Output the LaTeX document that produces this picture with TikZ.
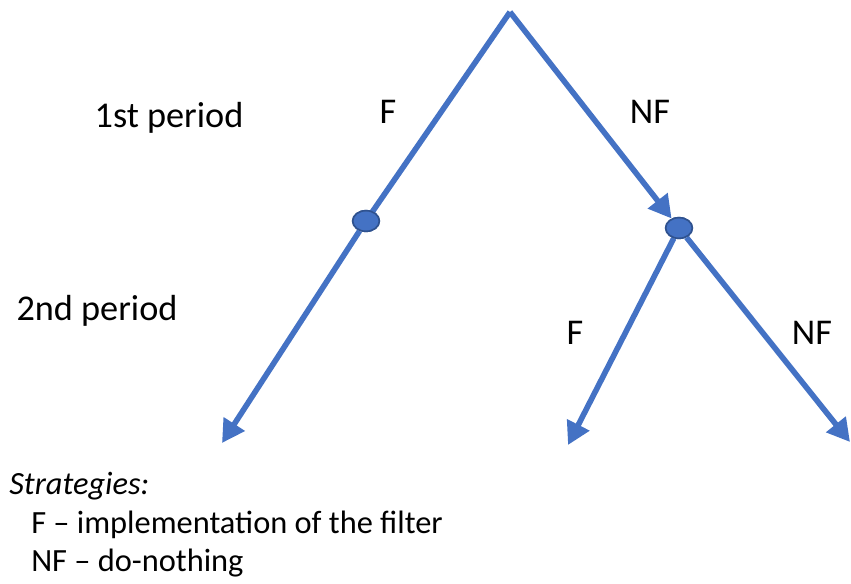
\documentclass[tikz,border=0pt]{standalone}
\usepackage{fontspec}
\setmainfont{Carlito}
\usetikzlibrary{arrows.meta,shapes.geometric}
\definecolor{ob}{HTML}{4472C4}
\definecolor{obd}{HTML}{2F528F}
\begin{document}
\begin{tikzpicture}[x=0.75pt,y=-0.75pt,
  branch/.style={draw=ob,line width=4.2pt},
  arr/.style={branch,-{Triangle[length=17pt,width=18pt]}},
  dot/.style={ellipse,draw=obd,fill=ob,line width=1.2pt,minimum width=20pt,minimum height=15.5pt,inner sep=0pt},
  lbl/.style={font=\fontsize{27.2}{32}\selectfont,inner sep=0pt},
  legend/.style={font=\fontsize{24.3}{29}\selectfont,inner sep=0pt,anchor=base west}]
\useasboundingbox (0,0) rectangle (851,583);
\coordinate (top) at (510,12);
\node[dot] (n1) at (366,221) {};
\node[dot] (n2) at (679,228) {};
\coordinate (e1) at (222,443);
\coordinate (e2) at (568,445);
\coordinate (e3) at (850,442);
\draw[branch] (top) -- (n1.center);
\draw[arr] (top) -- (n2);
\draw[arr] (n1) -- (e1);
\draw[arr] (n2) -- (e2);
\draw[arr] (n2) -- (e3);
\node[dot] at (366,221) {};
\node[dot] at (679,228) {};
\node[lbl] (l1) at (169,118) {1st period};
\node[lbl] (l2) at (97,311) {2nd period};
\node[lbl] (f1) at (388,112) {F};
\node[lbl] (nf1) at (650,112) {NF};
\node[lbl] (f2) at (575,333) {F};
\node[lbl] (nf2) at (812,333) {NF};
\node[legend] (s0) at (9,494) {\itshape Strategies:};
\node[legend] (s1) at (31,533) {F – implementation of the filter};
\node[legend] (s2) at (31,571) {NF – do-nothing};
\end{tikzpicture}
\end{document}
